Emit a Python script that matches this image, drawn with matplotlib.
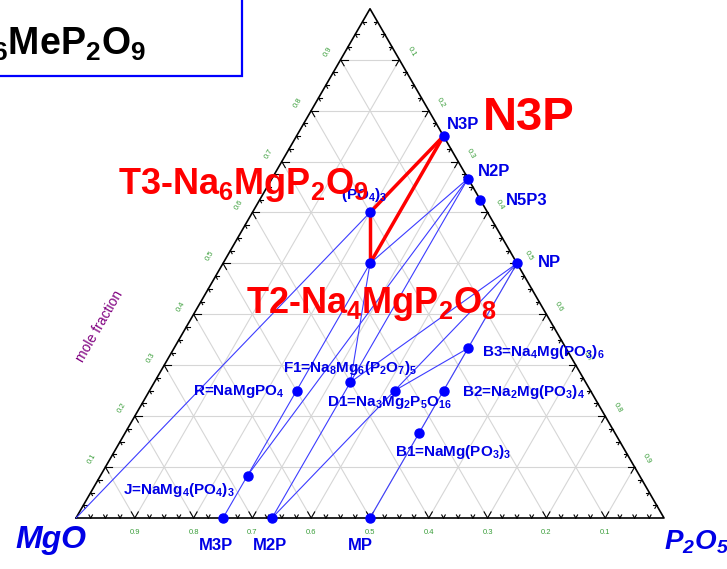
import numpy as np
import matplotlib.pyplot as plt
from matplotlib.patches import Rectangle

plt.rcParams['font.family'] = 'Liberation Sans'
plt.rcParams['mathtext.fontset'] = 'custom'
plt.rcParams['mathtext.rm'] = 'Liberation Sans'
plt.rcParams['mathtext.bf'] = 'Liberation Sans:bold'
plt.rcParams['mathtext.it'] = 'Liberation Sans:italic'
plt.rcParams['mathtext.bfit'] = 'Liberation Sans:italic:bold'
plt.rcParams['mathtext.default'] = 'bf'

# phases, as mole ratios Na2O : MgO : P2O5
names = ["N3P", "N2P", "N5P3", "NP", "M3P", "M2P", "MP", "T3", "T2",
         "R", "F1", "D1", "B1", "B2", "B3", "J", "MgO"]
na2o = [3, 2, 5, 1, 0, 0, 0, 3, 2, 0.5, 4, 1.5, 0.5, 1, 2, 0.5, 0]
mgo = [0, 0, 0, 0, 3, 2, 1, 1, 1, 1, 6, 2, 1, 1, 1, 4, 1]
p2o5 = [1, 1, 3, 1, 1, 1, 1, 1, 1, 0.5, 5, 2.5, 1.5, 2, 3, 1.5, 0]

# tie lines
ties_blue = [("MgO", "T3"), ("M3P", "T2"), ("J", "N2P"), ("M2P", "N2P"),
             ("M2P", "NP"), ("MP", "NP"), ("D1", "B3"), ("F1", "NP"),
             ("T2", "N2P"), ("F1", "T2")]
ties_red = [("T3", "N3P"), ("T2", "N3P"), ("T3", "T2")]

# phase labels: text
labels = {
   "N3P": "N3P", "N2P": "N2P", "N5P3": "N5P3", "NP": "NP",
   "M3P": "M3P", "M2P": "M2P", "MP": "MP",
   "J": "J=NaMg$_4$(PO$_4$)$_3$",
   "R": "R=NaMgPO$_4$",
   "F1": "F1=Na$_8$Mg$_6$(P$_2$O$_7$)$_5$",
   "D1": "D1=Na$_3$Mg$_2$P$_5$O$_{16}$",
   "B1": "B1=NaMg(PO$_3$)$_3$",
   "B2": "B2=Na$_2$Mg(PO$_3$)$_4$",
   "B3": "B3=Na$_4$Mg(PO$_3$)$_6$",
   "T3": "(PO$_4$)$_3$",
}

# label placement (x, y, ha) in figure pixels
label_pos = {
   "N3P": (447, 124, 'left'), "N2P": (478, 171, 'left'),
   "N5P3": (506, 200, 'left'), "NP": (538, 262, 'left'),
   "M3P": (216, 546, 'center'), "M2P": (270, 546, 'center'),
   "MP": (360, 546, 'center'),
   "J": (123, 490, 'left'), "R": (193, 391, 'left'),
   "F1": (283, 368, 'left'), "D1": (327, 402, 'left'),
   "B1": (395, 452, 'left'), "B2": (462, 392, 'left'),
   "B3": (482, 352, 'left'), "T3": (387, 195, 'right'),
}

X0, Y0, L = 76.0, 518.0, 588.0
S3 = np.sqrt(3) / 2


def to_px(a, b, c):
   s = float(a + b + c)
   a, b, c = a / s, b / s, c / s
   x = c + a / 2.0
   y = a * S3
   return X0 + L * x, Y0 - L * y


def plt_ternary():
   fig = plt.figure(figsize=(7.27, 5.69), dpi=100)
   ax = fig.add_axes([0, 0, 1, 1])
   ax.set_xlim(0, 727)
   ax.set_ylim(569, 0)
   ax.axis('off')

   # grid
   for i in range(1, 10):
      f = i / 10.0
      for p, q in [((f, 1 - f, 0), (f, 0, 1 - f)),
                   ((1 - f, f, 0), (0, f, 1 - f)),
                   ((1 - f, 0, f), (0, 1 - f, f))]:
         x1, y1 = to_px(*p)
         x2, y2 = to_px(*q)
         ax.plot([x1, x2], [y1, y2], color='#d6d6d6', lw=0.8, zorder=1)

   # frame
   corners = [to_px(0, 1, 0), to_px(0, 0, 1), to_px(1, 0, 0), to_px(0, 1, 0)]
   ax.plot([c[0] for c in corners], [c[1] for c in corners],
           color='black', lw=1.2, zorder=3)

   # ticks and tick labels
   green = '#3a9e3a'
   for k in range(1, 40):
      f = k / 40.0
      major = (k % 4 == 0)
      ln = 7.0 if major else 3.5
      edges = [
         (to_px(0, 1 - f, f), [(-0.5, -S3), (0.5, -S3)]),
         (to_px(f, 1 - f, 0), [(1, 0), (0.5, S3)]),
         (to_px(1 - f, 0, f), [(-1, 0), (-0.5, S3)]),
      ]
      for (px, py), arms in edges:
         for dx, dy in arms:
            ax.plot([px, px + ln * dx], [py, py + ln * dy],
                    color='black', lw=0.8, zorder=3)
      if major:
         bx, by = to_px(0, 1 - f, f)
         ax.text(bx, by + 15, '%.1f' % (1 - f), color=green, fontsize=5.5,
                 ha='center', va='center')
         lx, ly = to_px(f, 1 - f, 0)
         ax.text(lx - 13, ly - 8, '%.1f' % f, color=green, fontsize=5.5,
                 ha='center', va='center', rotation=60)
         rx, ry = to_px(1 - f, 0, f)
         ax.text(rx + 12, ry - 8, '%.1f' % f, color=green, fontsize=5.5,
                 ha='center', va='center', rotation=-60)

   idx = {n: i for i, n in enumerate(names)}

   def pos(n):
      i = idx[n]
      return to_px(na2o[i], mgo[i], p2o5[i])

   for a, b in ties_blue:
      xa, ya = pos(a)
      xb, yb = pos(b)
      ax.plot([xa, xb], [ya, yb], color='#3c3cff', lw=0.8, zorder=4)

   for a, b in ties_red:
      xa, ya = pos(a)
      xb, yb = pos(b)
      ax.plot([xa, xb], [ya, yb], color='#ff0000', lw=2.5, zorder=5,
              solid_capstyle='round')

   for n in names:
      if n == "MgO":
         continue
      x, y = pos(n)
      ax.plot(x, y, 'o', color='#0000ff', ms=6.5, zorder=6)

   for n, txt in labels.items():
      x, y, ha = label_pos[n]
      fs = 12 if len(txt) <= 4 else 11
      ax.text(x, y, txt, color='#0000e6', fontsize=fs, fontweight='bold',
              ha=ha, va='center', zorder=7)

   # big phase names
   ax.text(118, 194, "T3-Na$_6$MgP$_2$O$_9$", color='#ff0000', fontsize=26,
           fontweight='bold', ha='left', va='baseline', zorder=8)
   ax.text(246, 313, "T2-Na$_4$MgP$_2$O$_8$", color='#ff0000', fontsize=26,
           fontweight='bold', ha='left', va='baseline', zorder=8)
   ax.text(483, 130, "N3P", color='#ff0000', fontsize=34,
           fontweight='bold', ha='left', va='baseline', zorder=8)

   # corners
   ax.text(15, 540, "MgO", color='#0000e6', fontsize=23, fontweight='bold',
           fontstyle='italic', ha='left', va='center')
   ax.text(664, 542, r"P$_{\mathbfit{2}}$O$_{\mathbfit{5}}$", color='#0000e6',
           fontsize=20, fontweight='bold', fontstyle='italic',
           ha='left', va='center')

   ax.text(100, 326, "mole fraction", color='#800080', fontsize=10,
           rotation=60, ha='center', va='center')

   # title box
   ax.add_patch(Rectangle((-10, -10), 252, 86, fill=False,
                          edgecolor='#0000ff', lw=1.6, zorder=9))
   ax.text(146, 55, "Na$_6$MeP$_2$O$_9$", color='black', fontsize=27,
           fontweight='bold', ha='right', va='baseline', zorder=9)

   plt.savefig('out.png', dpi=100)


if __name__ == '__main__':
   plt_ternary()
